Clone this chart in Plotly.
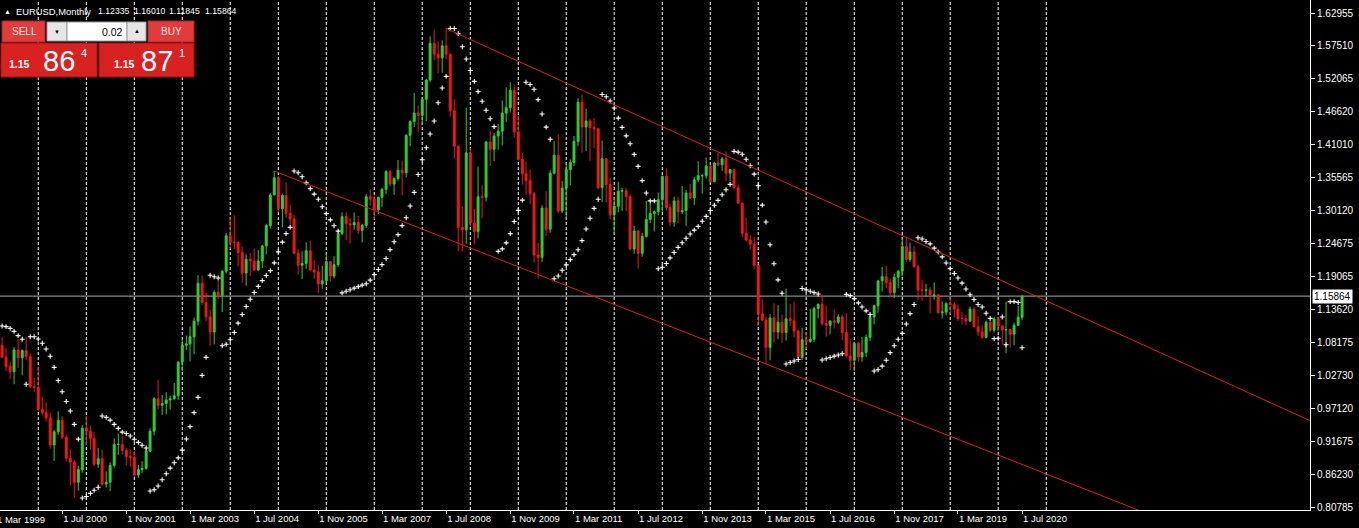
import plotly.graph_objects as go

# ---------------- data ----------------
years = list(range(1999, 2021))
month_dates = [f"{y}-{m:02d}-01" for y in years for m in range(1, 13)][:259]

opens = [
    1.1790, 1.1340, 1.0980, 1.0765, 1.0570, 1.0420, 1.0330, 1.0690, 1.0560, 1.0680, 1.0580, 1.0080,
    1.0070, 0.9705, 0.9650, 0.9560, 0.9110, 0.9330, 0.9520, 0.9240, 0.8890, 0.8825, 0.8490, 0.8700,
    0.9390, 0.9340, 0.9220, 0.8790, 0.8880, 0.8460, 0.8490, 0.8770, 0.9120, 0.9120, 0.9020, 0.8920,
    0.8900, 0.8610, 0.8700, 0.8720, 0.9010, 0.9340, 0.9880, 0.9770, 0.9800, 0.9860, 0.9880, 0.9930,
    1.0490, 1.0770, 1.0790, 1.0910, 1.1170, 1.1800, 1.1480, 1.1240, 1.0990, 1.1650, 1.1600, 1.2000,
    1.2590, 1.2480, 1.2480, 1.2310, 1.1970, 1.2200, 1.2170, 1.2020, 1.2170, 1.2420, 1.2760, 1.3270,
    1.3555, 1.3040, 1.3260, 1.2960, 1.2870, 1.2300, 1.2100, 1.2130, 1.2340, 1.2020, 1.1990, 1.1790,
    1.1840, 1.2160, 1.1920, 1.2110, 1.2630, 1.2910, 1.2790, 1.2770, 1.2810, 1.2680, 1.2760, 1.3240,
    1.3200, 1.3020, 1.3230, 1.3360, 1.3660, 1.3450, 1.3540, 1.3680, 1.3640, 1.4260, 1.4490, 1.4630,
    1.4590, 1.4860, 1.5180, 1.5790, 1.5610, 1.5550, 1.5750, 1.5610, 1.4670, 1.4080, 1.2730, 1.2690,
    1.3970, 1.2800, 1.2660, 1.3240, 1.3230, 1.4150, 1.4030, 1.4250, 1.4330, 1.4630, 1.4720, 1.5010,
    1.4320, 1.3860, 1.3620, 1.3510, 1.3290, 1.2270, 1.2230, 1.3050, 1.2700, 1.3630, 1.3930, 1.3000,
    1.3380, 1.3690, 1.3810, 1.4160, 1.4810, 1.4400, 1.4500, 1.4390, 1.4370, 1.3390, 1.3870, 1.3440,
    1.2940, 1.3080, 1.3330, 1.3340, 1.3240, 1.2370, 1.2670, 1.2300, 1.2580, 1.2860, 1.2960, 1.2990,
    1.3190, 1.3580, 1.3060, 1.2820, 1.3170, 1.2990, 1.3010, 1.3300, 1.3220, 1.3520, 1.3590, 1.3590,
    1.3750, 1.3490, 1.3800, 1.3770, 1.3870, 1.3630, 1.3690, 1.3390, 1.3130, 1.2630, 1.2520, 1.2450,
    1.2100, 1.1290, 1.1190, 1.0730, 1.1220, 1.0990, 1.1150, 1.0980, 1.1210, 1.1175, 1.1005, 1.0565,
    1.0860, 1.0830, 1.0870, 1.1380, 1.1450, 1.1130, 1.1100, 1.1170, 1.1150, 1.1240, 1.0980, 1.0590,
    1.0520, 1.0800, 1.0575, 1.0650, 1.0900, 1.1240, 1.1425, 1.1840, 1.1910, 1.1810, 1.1645, 1.1900,
    1.2000, 1.2410, 1.2195, 1.2320, 1.2075, 1.1690, 1.1685, 1.1690, 1.1600, 1.1605, 1.1310, 1.1320,
    1.1465, 1.1445, 1.1370, 1.1215, 1.1215, 1.1170, 1.1370, 1.1075, 1.0990, 1.0900, 1.1150, 1.1020,
    1.1210, 1.1090, 1.1025, 1.1030, 1.0955, 1.1100, 1.12335,
]
highs = [
    1.1906, 1.1380, 1.1030, 1.0900, 1.0720, 1.0490, 1.0740, 1.0870, 1.0700, 1.0910, 1.0630, 1.0230,
    1.0410, 0.9910, 0.9820, 0.9650, 0.9360, 0.9670, 0.9590, 0.9280, 0.9040, 0.8860, 0.8760, 0.9440,
    0.9593, 0.9430, 0.9330, 0.9060, 0.9030, 0.8670, 0.8820, 0.9220, 0.9300, 0.9260, 0.9060, 0.9040,
    0.9010, 0.8780, 0.8840, 0.9050, 0.9390, 0.9910, 1.0190, 0.9940, 0.9990, 0.9930, 1.0140, 1.0500,
    1.0870, 1.0930, 1.1080, 1.1230, 1.1933, 1.1930, 1.1640, 1.1360, 1.1680, 1.1840, 1.2020, 1.2640,
    1.2898, 1.2930, 1.2500, 1.2410, 1.2280, 1.2300, 1.2380, 1.2350, 1.2440, 1.2790, 1.3300, 1.3667,
    1.3580, 1.3290, 1.3478, 1.3100, 1.2940, 1.2360, 1.2330, 1.2480, 1.2510, 1.2180, 1.2100, 1.2090,
    1.2290, 1.2170, 1.2250, 1.2640, 1.2980, 1.2980, 1.2880, 1.2980, 1.2920, 1.2790, 1.3280, 1.3370,
    1.3270, 1.3240, 1.3390, 1.3680, 1.3680, 1.3560, 1.3850, 1.3840, 1.4280, 1.4510, 1.4966, 1.4760,
    1.4900, 1.5200, 1.5910, 1.6019, 1.5820, 1.5840, 1.6038, 1.5620, 1.4860, 1.4090, 1.3080, 1.4719,
    1.4050, 1.3040, 1.3740, 1.3430, 1.4170, 1.4340, 1.4300, 1.4450, 1.4840, 1.5060, 1.5144, 1.5100,
    1.4580, 1.3970, 1.3820, 1.3690, 1.3320, 1.2470, 1.3100, 1.3330, 1.3680, 1.4160, 1.4280, 1.3500,
    1.3800, 1.3860, 1.4250, 1.4880, 1.4939, 1.4700, 1.4540, 1.4550, 1.4390, 1.4170, 1.3880, 1.3550,
    1.3230, 1.3490, 1.3390, 1.3380, 1.3280, 1.2750, 1.2690, 1.2640, 1.3170, 1.3140, 1.3010, 1.3310,
    1.3590, 1.3710, 1.3120, 1.3240, 1.3240, 1.3420, 1.3350, 1.3450, 1.3570, 1.3830, 1.3620, 1.3893,
    1.3770, 1.3820, 1.3967, 1.3900, 1.3993, 1.3700, 1.3700, 1.3440, 1.3140, 1.2890, 1.2600, 1.2570,
    1.2103, 1.1534, 1.1240, 1.1290, 1.1467, 1.1436, 1.1278, 1.1714, 1.1460, 1.1495, 1.1030, 1.1059,
    1.0985, 1.1376, 1.1410, 1.1464, 1.1616, 1.1428, 1.1186, 1.1366, 1.1283, 1.1279, 1.1300, 1.0875,
    1.0830, 1.0829, 1.0906, 1.0950, 1.1268, 1.1446, 1.1846, 1.2070, 1.2092, 1.1880, 1.1961, 1.2023,
    1.2537, 1.2556, 1.2476, 1.2414, 1.2100, 1.1852, 1.1791, 1.1734, 1.1815, 1.1625, 1.1500, 1.1486,
    1.1570, 1.1489, 1.1448, 1.1324, 1.1265, 1.1412, 1.1406, 1.1249, 1.1109, 1.1179, 1.1176, 1.1240,
    1.1239, 1.1095, 1.1495, 1.1040, 1.1147, 1.1422, 1.16010,
]
lows = [
    1.1299, 1.0880, 1.0710, 1.0560, 1.0340, 1.0210, 1.0120, 1.0390, 1.0270, 1.0520, 1.0050, 0.9990,
    0.9680, 0.9600, 0.9500, 0.9050, 0.8844, 0.9280, 0.9210, 0.8840, 0.8440, 0.8228, 0.8350, 0.8650,
    0.9110, 0.9030, 0.8760, 0.8730, 0.8430, 0.8400, 0.8344, 0.8730, 0.8940, 0.8950, 0.8770, 0.8750,
    0.8580, 0.8564, 0.8640, 0.8700, 0.8990, 0.9270, 0.9700, 0.9610, 0.9620, 0.9700, 0.9860, 0.9860,
    1.0340, 1.0690, 1.0500, 1.0620, 1.1100, 1.1440, 1.1170, 1.0760, 1.0780, 1.1540, 1.1320, 1.1960,
    1.2380, 1.2370, 1.2080, 1.1810, 1.1760, 1.1920, 1.2010, 1.2010, 1.2050, 1.2280, 1.2710, 1.3260,
    1.2980, 1.2730, 1.2890, 1.2770, 1.2280, 1.1950, 1.1870, 1.2040, 1.2000, 1.1870, 1.1640, 1.1710,
    1.1800, 1.1830, 1.1880, 1.2070, 1.2600, 1.2520, 1.2460, 1.2690, 1.2620, 1.2480, 1.2720, 1.3090,
    1.2870, 1.2950, 1.3070, 1.3280, 1.3410, 1.3270, 1.3510, 1.3260, 1.3560, 1.4080, 1.4400, 1.4310,
    1.4430, 1.4500, 1.5150, 1.5510, 1.5290, 1.5300, 1.5530, 1.4570, 1.3880, 1.2330, 1.2330, 1.2460,
    1.2740, 1.2457, 1.2550, 1.2880, 1.3160, 1.3750, 1.3830, 1.4020, 1.4090, 1.4480, 1.4640, 1.4220,
    1.3850, 1.3440, 1.3270, 1.3120, 1.2140, 1.1876, 1.2150, 1.2590, 1.2640, 1.3610, 1.2970, 1.2970,
    1.2870, 1.3430, 1.3750, 1.4080, 1.3970, 1.4000, 1.3840, 1.4050, 1.3360, 1.3150, 1.3140, 1.2860,
    1.2620, 1.2980, 1.3000, 1.3000, 1.2350, 1.2290, 1.2042, 1.2240, 1.2560, 1.2800, 1.2660, 1.2930,
    1.2990, 1.3010, 1.2750, 1.2740, 1.2800, 1.2950, 1.2750, 1.3200, 1.3100, 1.3480, 1.3290, 1.3540,
    1.3480, 1.3480, 1.3750, 1.3670, 1.3500, 1.3500, 1.3370, 1.3120, 1.2570, 1.2500, 1.2360, 1.2030,
    1.1098, 1.1170, 1.0457, 1.0520, 1.0819, 1.0869, 1.0808, 1.0847, 1.1087, 1.0896, 1.0557, 1.0523,
    1.0710, 1.0810, 1.0822, 1.1217, 1.1098, 1.0912, 1.0952, 1.1046, 1.1122, 1.0852, 1.0570, 1.0352,
    1.0340, 1.0494, 1.0493, 1.0570, 1.0840, 1.1119, 1.1312, 1.1662, 1.1717, 1.1574, 1.1554, 1.1717,
    1.1915, 1.2155, 1.2155, 1.2055, 1.1510, 1.1508, 1.1575, 1.1301, 1.1525, 1.1300, 1.1216, 1.1269,
    1.1289, 1.1234, 1.1176, 1.1111, 1.1107, 1.1160, 1.1070, 1.0926, 1.0879, 1.0879, 1.0981, 1.0981,
    1.0992, 1.0778, 1.0636, 1.0727, 1.0766, 1.1168, 1.11845,
]
closes = [
    1.1340, 1.0980, 1.0765, 1.0570, 1.0420, 1.0330, 1.0690, 1.0560, 1.0680, 1.0580, 1.0080, 1.0070,
    0.9705, 0.9650, 0.9560, 0.9110, 0.9330, 0.9520, 0.9240, 0.8890, 0.8825, 0.8490, 0.8700, 0.9390,
    0.9340, 0.9220, 0.8790, 0.8880, 0.8460, 0.8490, 0.8770, 0.9120, 0.9120, 0.9020, 0.8920, 0.8900,
    0.8610, 0.8700, 0.8720, 0.9010, 0.9340, 0.9880, 0.9770, 0.9800, 0.9860, 0.9880, 0.9930, 1.0490,
    1.0770, 1.0790, 1.0910, 1.1170, 1.1800, 1.1480, 1.1240, 1.0990, 1.1650, 1.1600, 1.2000, 1.2590,
    1.2480, 1.2480, 1.2310, 1.1970, 1.2200, 1.2170, 1.2020, 1.2170, 1.2420, 1.2760, 1.3270, 1.3555,
    1.3040, 1.3260, 1.2960, 1.2870, 1.2300, 1.2100, 1.2130, 1.2340, 1.2020, 1.1990, 1.1790, 1.1840,
    1.2160, 1.1920, 1.2110, 1.2630, 1.2910, 1.2790, 1.2770, 1.2810, 1.2680, 1.2760, 1.3240, 1.3200,
    1.3020, 1.3230, 1.3360, 1.3660, 1.3450, 1.3540, 1.3680, 1.3640, 1.4260, 1.4490, 1.4630, 1.4590,
    1.4860, 1.5180, 1.5790, 1.5610, 1.5550, 1.5750, 1.5610, 1.4670, 1.4080, 1.2730, 1.2690, 1.3970,
    1.2800, 1.2660, 1.3240, 1.3230, 1.4150, 1.4030, 1.4250, 1.4330, 1.4630, 1.4720, 1.5010, 1.4320,
    1.3860, 1.3620, 1.3510, 1.3290, 1.2270, 1.2230, 1.3050, 1.2700, 1.3630, 1.3930, 1.3000, 1.3380,
    1.3690, 1.3810, 1.4160, 1.4810, 1.4400, 1.4500, 1.4390, 1.4370, 1.3390, 1.3870, 1.3440, 1.2940,
    1.3080, 1.3330, 1.3340, 1.3240, 1.2370, 1.2670, 1.2300, 1.2580, 1.2860, 1.2960, 1.2990, 1.3190,
    1.3580, 1.3060, 1.2820, 1.3170, 1.2990, 1.3010, 1.3300, 1.3220, 1.3520, 1.3590, 1.3590, 1.3750,
    1.3490, 1.3800, 1.3770, 1.3870, 1.3630, 1.3690, 1.3390, 1.3130, 1.2630, 1.2520, 1.2450, 1.2100,
    1.1290, 1.1190, 1.0730, 1.1220, 1.0990, 1.1150, 1.0980, 1.1210, 1.1175, 1.1005, 1.0565, 1.0860,
    1.0830, 1.0870, 1.1380, 1.1450, 1.1130, 1.1100, 1.1170, 1.1150, 1.1240, 1.0980, 1.0590, 1.0520,
    1.0800, 1.0575, 1.0650, 1.0900, 1.1240, 1.1425, 1.1840, 1.1910, 1.1810, 1.1645, 1.1900, 1.2000,
    1.2410, 1.2195, 1.2320, 1.2075, 1.1690, 1.1685, 1.1690, 1.1600, 1.1605, 1.1310, 1.1320, 1.1465,
    1.1445, 1.1370, 1.1215, 1.1215, 1.1170, 1.1370, 1.1075, 1.0990, 1.0900, 1.1150, 1.1020, 1.1210,
    1.1090, 1.1025, 1.1030, 1.0955, 1.1100, 1.1235, 1.15864,
]

# Parabolic SAR settings and its first visible value (Apr 1999)
sar_step, sar_max = 0.02, 0.2
sar_start_index = 3
sar_start_value = 1.1090

# trend lines drawn on the chart (anchor date, price)
upper_line_dates = ["2008-07-01", "2026-07-01"]
upper_line_prices = [1.6038, 0.9515]
lower_line_dates = ["2004-12-01", "2026-07-01"]
lower_line_prices = [1.3667, 0.6907]

current_price = 1.15864

tick_dates = ["1999-03-01", "2000-07-01", "2001-11-01", "2003-03-01", "2004-07-01",
              "2005-11-01", "2007-03-01", "2008-07-01", "2009-11-01", "2011-03-01",
              "2012-07-01", "2013-11-01", "2015-03-01", "2016-07-01", "2017-11-01",
              "2019-03-01", "2020-07-01"]
tick_labels = ["1 Mar 1999", "1 Jul 2000", "1 Nov 2001", "1 Mar 2003", "1 Jul 2004",
               "1 Nov 2005", "1 Mar 2007", "1 Jul 2008", "1 Nov 2009", "1 Mar 2011",
               "1 Jul 2012", "1 Nov 2013", "1 Mar 2015", "1 Jul 2016", "1 Nov 2017",
               "1 Mar 2019", "1 Jul 2020"]
price_ticks = [1.62955, 1.57510, 1.52065, 1.46620, 1.41010, 1.35565, 1.30120, 1.24675,
               1.19065, 1.13620, 1.08175, 1.02730, 0.97120, 0.91675, 0.86230, 0.80785]
grid_dates = [f"{y}-01-01" for y in range(2000, 2022)]

header_texts = ["EURUSD,Monthly", "1.12335", "1.16010", "1.11845", "1.15864"]


# Parabolic SAR indicator (terminal-style: reversal checked against the previous SAR)
def parabolic_sar(high, low, i0, s0, step, maximum):
    n = len(high)
    out = [None] * n
    out[i0] = s0
    dirlong = False
    af = step
    ep = low[i0]
    last_high = s0
    last_low = low[i0]
    for i in range(i0 + 1, n):
        ph, pl = high[i], low[i]
        prev = out[i - 1]
        if dirlong and pl < prev:
            af, dirlong, ep, last_low = step, False, pl, pl
            out[i] = last_high
            continue
        if (not dirlong) and ph > prev:
            af, dirlong, ep, last_high = step, True, ph, ph
            out[i] = last_low
            continue
        sar = prev + af * (ep - prev)
        j1, j2 = i - 1, max(i0, i - 2)
        if dirlong:
            if ep < ph and af + step <= maximum + 1e-9:
                af += step
            sar = min(sar, low[j1], low[j2])
            if sar > pl:
                af, dirlong, ep, last_low = step, False, pl, pl
                out[i] = last_high
                continue
            if ep < ph:
                ep = last_high = ph
        else:
            if ep > pl and af + step <= maximum + 1e-9:
                af += step
            sar = max(sar, high[j1], high[j2])
            if sar < ph:
                af, dirlong, ep, last_high = step, True, ph, ph
                out[i] = last_low
                continue
            if ep > pl:
                ep = last_low = pl
        out[i] = sar
    return out


sar = parabolic_sar(highs, lows, sar_start_index, sar_start_value, sar_step, sar_max)

# ---------------- geometry ----------------
W, H = 1359, 528
PW, PH = 1310, 510          # plot area in px (left/top at 0)
K = (1.62955 - 0.80785) / 494.0
y_top = 1.62955 + 13 * K
y_bot = 1.62955 - 497 * K


def xp(px):
    return px / PW


def yp(py):
    return 1 - py / PH


FONT = "Liberation Sans, Arial, sans-serif"
GREEN = "#32CD32"
RED = "#F01818"

fig = go.Figure()

fig.add_trace(go.Candlestick(
    x=month_dates, open=opens, high=highs, low=lows, close=closes,
    increasing=dict(line=dict(color=GREEN, width=1), fillcolor=GREEN),
    decreasing=dict(line=dict(color=RED, width=1), fillcolor=RED),
    whiskerwidth=0, hoverinfo="skip", showlegend=False,
))

fig.add_trace(go.Scatter(
    x=month_dates, y=sar, mode="markers",
    marker=dict(symbol="cross-thin", size=3.5, color="white",
                line=dict(color="white", width=1.1)),
    hoverinfo="skip", showlegend=False,
))

for dts, prs in ((upper_line_dates, upper_line_prices), (lower_line_dates, lower_line_prices)):
    fig.add_trace(go.Scatter(
        x=dts, y=prs, mode="lines", line=dict(color="#E01E1E", width=1),
        hoverinfo="skip", showlegend=False,
    ))

shapes = []
for g in grid_dates:
    shapes.append(dict(type="line", xref="x", yref="paper", x0=g, x1=g, y0=0, y1=1,
                       line=dict(color="#FFFFFF", width=1, dash="3px,2px"), layer="below"))
# current price line
shapes.append(dict(type="line", xref="paper", yref="y", x0=0, x1=1,
                   y0=current_price, y1=current_price,
                   line=dict(color="#A8A8A8", width=1), layer="below"))


def rect(x0, y0, x1, y1, fill, line):
    return dict(type="rect", xref="paper", yref="paper",
                x0=xp(x0), x1=xp(x1), y0=yp(y1), y1=yp(y0),
                fillcolor=fill, line=dict(color=line, width=1), layer="above")


shapes += [
    rect(2, 21, 45, 42, "#E03C3C", "#B02525"),     # SELL
    rect(47, 22, 67, 41, "#E6E6E6", "#9A9A9A"),    # down
    rect(67, 22, 127, 41, "#FFFFFF", "#9A9A9A"),   # lot
    rect(127, 22, 146, 41, "#E6E6E6", "#9A9A9A"),  # up
    rect(148, 21, 194, 42, "#E03C3C", "#B02525"),  # BUY
    rect(1, 43, 97, 77, "#D82222", "#A01212"),     # bid box
    rect(99, 43, 194, 77, "#D82222", "#A01212"),   # ask box
]

annotations = []


def txt(s, x, y, size, color="white", anchor="left", bold=False):
    annotations.append(dict(
        text=f"<b>{s}</b>" if bold else s, xref="paper", yref="paper",
        x=xp(x), y=yp(y), xanchor=anchor, yanchor="middle", showarrow=False,
        font=dict(family=FONT, size=size, color=color)))


# header
txt("▲", 2, 11, 7)
header_x = [14, 96, 131.5, 167, 202.5]
header_sizes = [9.4, 8.7, 8.7, 8.7, 8.7]
for s, hx, hs in zip(header_texts, header_x, header_sizes):
    txt(s, hx, 11, hs)

# widget text
txt("SELL", 24, 31.5, 10, "#FFE6E6", "center")
txt("BUY", 171, 31.5, 10, "#FFE6E6", "center")
txt("▼", 57, 32, 6, "#000000", "center")
txt("▲", 137, 31, 6, "#000000", "center")
txt("0.02", 125, 31.5, 10.5, "#000000", "right")
txt("1.15", 7, 63.5, 10.5, "white", "left", True)
txt("86", 41, 60.5, 29, "white", "left")
txt("4", 79, 53, 11, "white", "left")
txt("1.15", 112, 63.5, 10.5, "white", "left", True)
txt("87", 139, 60.5, 29, "white", "left")
txt("1", 177, 53, 11, "white", "left")

# first (partly cut) date label
annotations.append(dict(text=tick_labels[0], xref="paper", yref="paper",
                        x=xp(-5), y=yp(519.5), xanchor="left", yanchor="middle",
                        showarrow=False, font=dict(family=FONT, size=9.5, color="white")))

# current price tag on the price axis
annotations.append(dict(text=f"{current_price:.5f}", xref="paper", yref="y",
                        x=1, y=current_price, xanchor="left", yanchor="middle", xshift=2,
                        showarrow=False, bgcolor="#FFFFFF", borderpad=1,
                        font=dict(family=FONT, size=10, color="#000000")))

fig.update_layout(
    width=W, height=H, autosize=False,
    margin=dict(l=0, r=W - PW, t=0, b=H - PH),
    paper_bgcolor="#000000", plot_bgcolor="#000000",
    shapes=shapes, annotations=annotations,
    boxgap=0.25, boxgroupgap=0.3,
    showlegend=False,
    xaxis=dict(
        type="date", range=["1999-03-16", "2026-07-01"],
        rangeslider=dict(visible=False),
        tickmode="array", tickvals=tick_dates, ticktext=tick_labels,
        ticklabelposition="outside right",
        ticks="outside", ticklen=3, tickcolor="#FFFFFF", tickwidth=1,
        showgrid=False, zeroline=False,
        showline=True, linecolor="#FFFFFF", linewidth=1,
        tickfont=dict(family=FONT, size=9.5, color="#FFFFFF"),
        fixedrange=True,
    ),
    yaxis=dict(
        side="right", range=[y_bot, y_top],
        tickmode="array", tickvals=price_ticks,
        ticktext=[f"{v:.5f}" for v in price_ticks],
        ticks="outside", ticklen=4, tickcolor="#FFFFFF", tickwidth=1,
        showgrid=False, zeroline=False,
        showline=True, linecolor="#FFFFFF", linewidth=1,
        tickfont=dict(family=FONT, size=10, color="#FFFFFF"),
        fixedrange=True,
    ),
)

fig.write_html(
    "out.html",
    config={"displayModeBar": False},
    post_script="document.body.style.margin='0';document.body.style.padding='0';"
                "document.body.style.overflow='hidden';document.body.style.background='#000';",
)
